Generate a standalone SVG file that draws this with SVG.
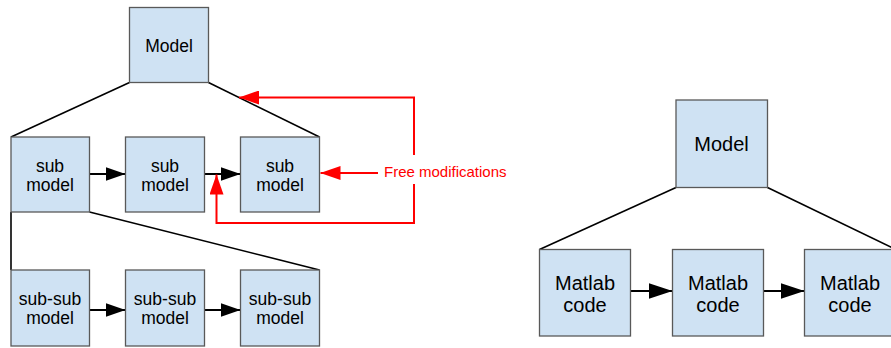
<svg xmlns="http://www.w3.org/2000/svg" width="891" height="348" viewBox="0 0 891 348">
<defs>
<style>
.box{fill:#cfe2f3;stroke:#595959;stroke-width:1.3}
.t{font-family:"Liberation Sans",Arial,sans-serif;font-size:17.5px;fill:#000;text-anchor:middle}
.t2{font-family:"Liberation Sans",Arial,sans-serif;font-size:20px;fill:#000;text-anchor:middle}
.ln{fill:none;stroke:#000;stroke-width:1.6}
.ar{fill:none;stroke:#000;stroke-width:2}
.red{fill:none;stroke:#ff0000;stroke-width:2}
.rt{font-family:"Liberation Sans",Arial,sans-serif;font-size:15px;fill:#ff0000}
</style>
<marker id="ab" markerUnits="userSpaceOnUse" markerWidth="20" markerHeight="14" refX="20" refY="7" orient="auto"><path d="M0,0 L20,7 L0,14 Z" fill="#000"/></marker>
<marker id="ab2" markerUnits="userSpaceOnUse" markerWidth="24" markerHeight="16" refX="24" refY="8" orient="auto"><path d="M0,0 L24,8 L0,16 Z" fill="#000"/></marker>
<marker id="ar" markerUnits="userSpaceOnUse" markerWidth="20" markerHeight="14" refX="20" refY="7" orient="auto"><path d="M0,0 L20,7 L0,14 Z" fill="#ff0000"/></marker>
</defs>
<g id="connectors">
<path class="ln" d="M129.5,82.5 L11,137"/>
<path class="ln" d="M208.5,82.5 L319.5,137"/>
<path class="ar" d="M89.5,174 L125.5,174" marker-end="url(#ab)"/>
<path class="ar" d="M204.5,174 L240.5,174" marker-end="url(#ab)"/>
<path class="ln" d="M11,212 L11,270"/>
<path class="ln" d="M89.5,212 L319.5,270"/>
<path class="ar" d="M89.5,310 L125.5,310" marker-end="url(#ab)"/>
<path class="ar" d="M204.5,310 L240.5,310" marker-end="url(#ab)"/>
<path class="red" d="M414,155 L414,97.5 L239,97.5" marker-end="url(#ar)"/>
<path class="red" d="M414,184 L414,223 L216.5,223 L216.5,174.5" marker-end="url(#ar)"/>
<path class="red" d="M378,173 L320.5,173" marker-end="url(#ar)"/>
<path class="ln" d="M676,187.5 L539.5,249.5"/>
<path class="ln" d="M767.5,187.5 L896,249.5"/>
<path class="ar" d="M630.5,291 L672.5,291" marker-end="url(#ab2)"/>
<path class="ar" d="M763.5,291 L804.5,291" marker-end="url(#ab2)"/>
</g>
<g id="model-left"><rect class="box" x="129.5" y="7.5" width="79" height="75"/><text class="t" x="169" y="51.5">Model</text></g>
<g id="sub1"><rect class="box" x="11" y="137" width="78.5" height="75"/><text class="t" x="50" y="171.5">sub</text><text class="t" x="50" y="191">model</text></g>
<g id="sub2"><rect class="box" x="125.5" y="137" width="79" height="75"/><text class="t" x="165" y="171.5">sub</text><text class="t" x="165" y="191">model</text></g>
<g id="sub3"><rect class="box" x="240.5" y="137" width="79" height="75"/><text class="t" x="280" y="171.5">sub</text><text class="t" x="280" y="191">model</text></g>
<g id="subsub1"><rect class="box" x="11" y="270" width="78.5" height="76"/><text class="t" x="50" y="304.5">sub-sub</text><text class="t" x="50" y="323.5">model</text></g>
<g id="subsub2"><rect class="box" x="125.5" y="270" width="79" height="76"/><text class="t" x="165" y="304.5">sub-sub</text><text class="t" x="165" y="323.5">model</text></g>
<g id="subsub3"><rect class="box" x="240.5" y="270" width="79" height="76"/><text class="t" x="280" y="304.5">sub-sub</text><text class="t" x="280" y="323.5">model</text></g>
<g id="free-label"><text class="rt" x="384" y="177">Free modifications</text></g>
<g id="model-right"><rect class="box" x="676" y="100" width="91.5" height="87.5"/><text class="t2" x="721.5" y="151">Model</text></g>
<g id="matlab1"><rect class="box" x="539.5" y="249.5" width="91" height="86.5"/><text class="t2" x="585" y="290">Matlab</text><text class="t2" x="585" y="312">code</text></g>
<g id="matlab2"><rect class="box" x="672.5" y="249.5" width="91" height="86.5"/><text class="t2" x="718" y="290">Matlab</text><text class="t2" x="718" y="312">code</text></g>
<g id="matlab3"><rect class="box" x="804.5" y="249.5" width="91" height="86.5"/><text class="t2" x="850" y="290">Matlab</text><text class="t2" x="850" y="312">code</text></g>
</svg>
